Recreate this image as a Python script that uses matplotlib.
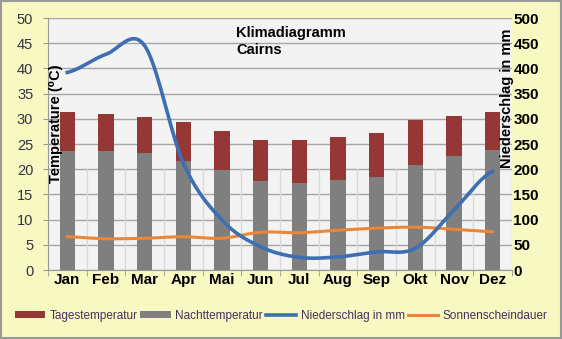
import numpy as np
import matplotlib.pyplot as plt

plt.rcParams['font.family'] = ['Liberation Sans', 'DejaVu Sans']

months = ['Jan', 'Feb', 'Mar', 'Apr', 'Mai', 'Jun', 'Jul', 'Aug', 'Sep', 'Okt', 'Nov', 'Dez']
tag_temp = [31.3, 31.0, 30.4, 29.3, 27.6, 25.8, 25.7, 26.4, 27.2, 29.7, 30.6, 31.3]
nacht_temp = [23.7, 23.7, 23.2, 21.6, 19.9, 17.6, 17.2, 17.8, 18.5, 20.8, 22.6, 23.8]
niederschlag = [392, 428, 445, 212, 99, 46, 25, 26, 36, 43, 119, 196]
sonne = [6.6, 6.2, 6.3, 6.6, 6.3, 7.5, 7.4, 7.9, 8.3, 8.5, 8.1, 7.6]


def smooth(y, n=20):
    # catmull-rom through the points, like Excel's smoothed line
    y = np.asarray(y, float)
    p = np.concatenate([[y[0]], y, [y[-1]]])
    xs, ys = [], []
    for i in range(len(y) - 1):
        p0, p1, p2, p3 = p[i], p[i + 1], p[i + 2], p[i + 3]
        t = np.linspace(0, 1, n, endpoint=False)
        v = 0.5 * ((2 * p1) + (-p0 + p2) * t + (2 * p0 - 5 * p1 + 4 * p2 - p3) * t ** 2
                   + (-p0 + 3 * p1 - 3 * p2 + p3) * t ** 3)
        xs.append(i + t)
        ys.append(v)
    xs.append([len(y) - 1])
    ys.append([y[-1]])
    return np.concatenate(xs), np.concatenate(ys)


fig = plt.figure(figsize=(5.62, 3.39), dpi=100, facecolor='#F8F8C2')
ax = fig.add_axes([48 / 562, 1 - 270 / 339, 464 / 562, 252 / 339])
ax.set_facecolor('#F3F3F3')

x = np.arange(len(months))
ax.bar(x, tag_temp, width=0.4, color='#953735', label='Tagestemperatur', zorder=3)
ax.bar(x, nacht_temp, width=0.4, color='#7F7F7F', label='Nachttemperatur', zorder=3)

ax2 = ax.twinx()
xs, ys = smooth(niederschlag)
ax2.plot(xs, ys, color='#3D6FB2', lw=2.6, label='Niederschlag in mm', zorder=4)
xs, ys = smooth(sonne)
ax.plot(xs, ys, color='#E8873A', lw=2.2, label='Sonnenscheindauer', zorder=4)

ax.set_xlim(-0.5, 11.5)
ax.set_ylim(0, 50)
ax2.set_ylim(0, 500)
ax.set_yticks(range(0, 51, 5))
ax2.set_yticks(range(0, 501, 50))
ax.set_xticks(x)
ax.set_xticklabels(months, fontsize=11, fontweight='bold')
ax.tick_params(axis='x', length=0, pad=2)
ax.set_xticks(np.arange(-0.5, 12, 1), minor=True)
ax.tick_params(axis='x', which='minor', length=4, color='#999999')
ax.tick_params(axis='y', labelsize=10.5, labelcolor='#333344', length=3.6, pad=7,
               color='#999999')
ax2.tick_params(axis='y', labelsize=11, length=0, pad=1)
for t in ax2.get_yticklabels():
    t.set_fontweight('bold')

ax.grid(axis='y', color='#A6A6A6', lw=1, zorder=1)
for b in np.arange(-0.5, 12, 1):
    ax.axvline(b, ymax=0.4, color='#DADADA', lw=1, zorder=1)
ax.set_axisbelow(True)

for s in ['top', 'right']:
    ax.spines[s].set_visible(False)
    ax2.spines[s].set_visible(False)
ax.spines['left'].set_color('#999999')
ax.spines['bottom'].set_color('#999999')
ax2.spines['left'].set_visible(False)
ax2.spines['bottom'].set_visible(False)

ax.text(-0.29, 40.8, 'Temperature (⁰C)', rotation=90, fontsize=10.5, fontweight='bold',
        ha='center', va='top')
ax.text(11.37, 47.8, 'Niederschlag in mm', rotation=90, fontsize=10.5, fontweight='bold',
        ha='center', va='top')
ax.text(4.36, 48.4, 'Klimadiagramm\nCairns', fontsize=10.5, fontweight='bold',
        ha='left', va='top', linespacing=1.3)

h1, l1 = ax.get_legend_handles_labels()
h2, l2 = ax2.get_legend_handles_labels()
handles = [h1[1], h1[2], h2[0], h1[0]]
labels = [l1[1], l1[2], l2[0], l1[0]]
fig.legend(handles, labels, loc='center', bbox_to_anchor=(0.5, 1 - 316 / 339), ncol=4,
           frameon=False, fontsize=8.5, handlelength=2.6, handleheight=0.55,
           handletextpad=0.35, columnspacing=0.25, labelcolor='#4A2F5A')

border = plt.Rectangle((0.002, 0.003), 0.996, 0.994, transform=fig.transFigure,
                       fill=False, edgecolor='#999999', lw=1.5)
fig.patches.append(border)

fig.savefig('out.png', dpi=100, facecolor=fig.get_facecolor())
